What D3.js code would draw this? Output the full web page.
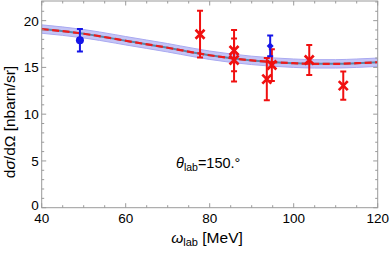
<!DOCTYPE html>
<html><head><meta charset="utf-8">
<script src="https://cdn.jsdelivr.net/npm/d3@7"></script>
<style>body{margin:0;background:#fff}svg{display:block}text{font-family:"Liberation Sans",Arial,sans-serif}</style>
</head><body>
<script>
// Theory curve (omega_lab in MeV, dσ/dΩ in nbarn/sr)
const curveX = [40, 50, 57.5, 60, 70, 73, 80, 90, 100, 105, 110, 115, 120];
const curveY = [19.1, 18.6, 18.05, 17.85, 17.1, 16.85, 16.3, 15.75, 15.45, 15.38, 15.38, 15.45, 15.55];
const bandHalf = [0.45, 0.45, 0.45, 0.45, 0.45, 0.45, 0.45, 0.45, 0.45, 0.45, 0.45, 0.45, 0.45];
// Red data (crosses)
const redX = [77.7, 85.8, 85.8, 93.6, 94.8, 103.7, 111.8];
const redY = [18.55, 16.8, 15.8, 13.75, 15.25, 15.8, 13.05];
const redErr = [2.5, 2.2, 2.3, 2.25, 1.7, 1.6, 1.5];
// Blue data
const blueCircX = [49.1], blueCircY = [17.9], blueCircErr = [1.2];
const blueDiaX = [94.4], blueDiaY = [17.3], blueDiaErr = [1.1];
const xTicks = [40, 60, 80, 100, 120];
const yTicks = [0, 5, 10, 15, 20];

const W = 390, H = 253;
const L = 41.7, R = 377.7, T = 1, B = 207.7;
const svg = d3.select("body").append("svg").attr("width", W).attr("height", H);
const x = d3.scaleLinear().domain([40, 120]).range([L, R]);
const y = d3.scaleLinear().domain([0, 22.1]).range([B, T]);

svg.append("clipPath").attr("id","c").append("rect").attr("x",L).attr("y",T).attr("width",R-L).attr("height",B-T);
const g = svg.append("g").attr("clip-path","url(#c)");

const pts = curveX.map((v,i)=>({x:v,y:curveY[i],h:bandHalf[i]}));
const area = d3.area().curve(d3.curveMonotoneX).x(d=>x(d.x)).y0(d=>y(d.y-d.h)).y1(d=>y(d.y+d.h));
const line = d3.line().curve(d3.curveMonotoneX).x(d=>x(d.x)).y(d=>y(d.y));
g.append("path").attr("d",area(pts)).attr("fill","#c4c4f6").attr("stroke","#a9a9f0").attr("stroke-width",1);
g.append("path").attr("d",line(pts)).attr("fill","none").attr("stroke","#5b86a8").attr("stroke-width",2);
g.append("path").attr("d",line(pts)).attr("fill","none").attr("stroke","#ee1c1c").attr("stroke-width",2.2).attr("stroke-dasharray","7,3.5");

function errBar(px, py, pe, col){
  const gg = g.append("g").attr("stroke",col).attr("stroke-width",2);
  gg.append("line").attr("x1",x(px)).attr("x2",x(px)).attr("y1",y(py-pe)).attr("y2",y(py+pe));
  [py-pe, py+pe].forEach(v=>gg.append("line").attr("x1",x(px)-3).attr("x2",x(px)+3).attr("y1",y(v)).attr("y2",y(v)));
}
redX.forEach((v,i)=>errBar(v, redY[i], redErr[i], "#f01010"));
blueCircX.forEach((v,i)=>errBar(v, blueCircY[i], blueCircErr[i], "#1515e8"));
blueDiaX.forEach((v,i)=>errBar(v, blueDiaY[i], blueDiaErr[i], "#1515e8"));
blueCircX.forEach((v,i)=>g.append("circle").attr("cx",x(v)).attr("cy",y(blueCircY[i])).attr("r",4).attr("fill","#1515e8"));
blueDiaX.forEach((v,i)=>g.append("path").attr("transform",`translate(${x(v)},${y(blueDiaY[i])})`).attr("d","M0,-3.5L3.5,0L0,3.5L-3.5,0Z").attr("fill","#1515e8"));
redX.forEach((v,i)=>{
  const cx=x(v), cy=y(redY[i]), s=4.5;
  g.append("path").attr("d",`M${cx-s},${cy-s}L${cx+s},${cy+s}M${cx-s},${cy+s}L${cx+s},${cy-s}`).attr("stroke","#f01010").attr("stroke-width",2.7).attr("fill","none");
});

// Frame and ticks
const fr = svg.append("g").attr("stroke","#9a9a9a").attr("stroke-width",1).attr("fill","none");
fr.append("rect").attr("x",L).attr("y",T).attr("width",R-L).attr("height",B-T);
for(let v=40; v<=120; v+=5){
  const len = v%20===0 ? 4.5 : 2.5;
  fr.append("line").attr("x1",x(v)).attr("x2",x(v)).attr("y1",B).attr("y2",B-len);
  fr.append("line").attr("x1",x(v)).attr("x2",x(v)).attr("y1",T).attr("y2",T+len);
}
for(let v=0; v<=22; v+=1){
  const len = v%5===0 ? 4.5 : 2.5;
  fr.append("line").attr("x1",L).attr("x2",L+len).attr("y1",y(v)).attr("y2",y(v));
  fr.append("line").attr("x1",R).attr("x2",R-len).attr("y1",y(v)).attr("y2",y(v));
}
xTicks.forEach(v=>svg.append("text").attr("x",x(v)).attr("y",B+15.5).attr("text-anchor","middle").attr("font-size",13.5).text(v));
yTicks.forEach(v=>svg.append("text").attr("x",L-3).attr("y",y(v)+(v===0?2:5)).attr("text-anchor","end").attr("font-size",13.5).text(v));

// Axis labels
const xl = svg.append("text").attr("x",207).attr("y",243).attr("text-anchor","middle").attr("font-size",15.5);
xl.append("tspan").attr("font-style","italic").text("ω");
xl.append("tspan").attr("font-size",11).attr("dy",2.5).text("lab");
xl.append("tspan").attr("dy",-2.5).text(" [MeV]");
svg.append("text").attr("transform","translate(14.5,122) rotate(-90)").attr("text-anchor","middle").attr("font-size",15.5)
  .html('d<tspan font-style="italic">σ</tspan>/dΩ [nbarn/sr]');
const tl = svg.append("text").attr("x",176).attr("y",168).attr("font-size",14.5);
tl.append("tspan").attr("font-style","italic").text("θ");
tl.append("tspan").attr("font-size",10.5).attr("dy",2.5).text("lab");
tl.append("tspan").attr("dy",-2.5).text("=150.°");
</script>
</body></html>
